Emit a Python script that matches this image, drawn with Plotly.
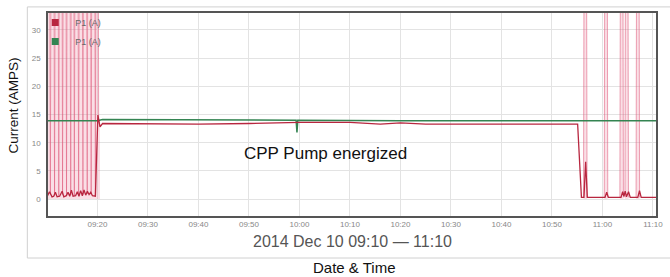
import plotly.graph_objects as go

DATE = "2014-12-10 "

# Main P1 (A) current series (red)
red_times = ["09:10:00", "09:10:30", "09:11:00", "09:11:20", "09:11:40", "09:12:00", "09:12:30",
             "09:13:00", "09:13:20", "09:13:50", "09:14:10", "09:14:30", "09:14:50", "09:15:10",
             "09:15:40", "09:16:00", "09:16:20", "09:16:40", "09:17:00", "09:17:20", "09:17:40",
             "09:18:00", "09:18:20", "09:18:40", "09:19:00", "09:19:20", "09:19:35", "09:20:05",
             "09:20:30", "09:21:00", "09:30:00", "09:40:00", "09:50:00", "09:55:00", "10:00:00",
             "10:10:00", "10:13:00", "10:16:00", "10:20:00", "10:25:00", "10:35:00", "10:45:00",
             "10:55:05", "10:55:50", "10:56:20", "10:56:40", "10:57:00", "11:00:30", "11:00:50",
             "11:01:10", "11:03:40", "11:04:00", "11:04:15", "11:04:30", "11:04:45", "11:05:10",
             "11:05:30", "11:07:00", "11:07:20", "11:07:40", "11:11:00"]
red_vals = [0.4, 1.3, 0.4, 0.5, 1.2, 0.4, 0.5,
            1.4, 0.4, 0.6, 1.2, 0.5, 1.6, 0.5,
            0.6, 1.3, 0.5, 1.5, 0.6, 1.6, 0.7,
            1.4, 0.8, 1.2, 0.6, 0.5, 0.5, 14.9,
            12.8, 13.4, 13.3, 13.3, 13.4, 13.5, 13.6,
            13.6, 13.4, 13.3, 13.5, 13.3, 13.3, 13.3,
            13.3, 0.3, 0.3, 6.6, 0.3, 0.3, 1.2,
            0.3, 0.3, 1.3, 0.5, 1.4, 0.4, 1.3,
            0.3, 0.3, 1.5, 0.3, 0.3]

# Off-scale spikes of P1 (A) (drawn as light pink bands); None separates bursts
spike_times = ["09:10:12", "09:10:40", "09:11:05", "09:11:30", "09:11:55", "09:12:20", "09:12:45",
               "09:13:05", "09:13:30", "09:13:52", "09:14:15", "09:14:42", "09:15:05", "09:15:25",
               "09:15:50", "09:16:16", "09:16:40", "09:17:07", "09:17:30", "09:17:58", "09:18:20",
               "09:18:45", "09:19:10", "09:19:35", "09:19:55", "09:20:14", "09:20:30", None,
               "10:56:15", "10:56:36", "10:56:57", None,
               "11:00:21", "11:00:42", "11:01:03", None,
               "11:03:27", "11:03:48", "11:04:09", None,
               "11:04:27", "11:04:48", "11:05:09", None,
               "11:06:39", "11:07:00", "11:07:21"]
spike_vals = [150, 0.8, 150, 0.6, 150, 0.5, 150,
              0.8, 150, 0.6, 150, 0.7, 150, 0.6,
              150, 0.8, 150, 0.8, 150, 0.9, 150,
              0.8, 150, 0.6, 150, 14.0, 13.0, None,
              0.3, 150, 0.3, None,
              0.3, 150, 0.3, None,
              0.3, 150, 0.3, None,
              0.3, 150, 0.3, None,
              0.3, 150, 0.3]

# Second P1 (A) series (green)
green_times = ["09:10:00", "09:20:00", "09:21:00", "09:40:00", "09:59:20", "09:59:30", "09:59:40",
               "10:20:00", "10:40:00", "10:55:00", "11:11:00"]
green_vals = [13.9, 13.9, 14.1, 14.0, 14.0, 11.8, 14.0, 13.9, 13.9, 14.0, 13.9]

legend_names = ["P1 (A)", "P1 (A)"]
y_ticks = [0, 5, 10, 15, 20, 25, 30]

RED = "#b8263f"
GREEN = "#348452"
FONT = "Liberation Sans, Arial, sans-serif"


def ts(lst):
    return [DATE + t if t is not None else None for t in lst]


# split spike data into bursts
segments = []
cur_t, cur_v = [], []
for t, v in zip(spike_times, spike_vals):
    if t is None:
        if cur_t:
            segments.append((cur_t, cur_v))
        cur_t, cur_v = [], []
    else:
        cur_t.append(t)
        cur_v.append(v)
if cur_t:
    segments.append((cur_t, cur_v))

fig = go.Figure()

for seg_t, seg_v in segments:
    fig.add_trace(go.Scatter(
        x=ts(seg_t), y=seg_v, mode="lines", fill="tozeroy",
        fillcolor="rgba(236,120,150,0.24)",
        line=dict(color="rgba(222,90,122,0.55)", width=1),
        showlegend=False, hoverinfo="skip"))

fig.add_trace(go.Scatter(
    x=ts(green_times), y=green_vals, mode="lines",
    line=dict(color=GREEN, width=1.5), showlegend=False))

fig.add_trace(go.Scatter(
    x=ts(red_times), y=red_vals, mode="lines",
    line=dict(color=RED, width=1.3), showlegend=False))

# legend entries with square swatches
for name, col in zip(legend_names, [RED, GREEN]):
    fig.add_trace(go.Scatter(
        x=[None], y=[None], mode="markers", name=name,
        marker=dict(symbol="square", size=7, color=col)))

fig.update_layout(
    width=670, height=277,
    margin=dict(l=48, r=7, t=13, b=61),
    paper_bgcolor="white", plot_bgcolor="white",
    font=dict(family=FONT, color="#777", size=8),
    legend=dict(x=-0.021, y=1.025, xanchor="left", yanchor="top",
                bgcolor="rgba(0,0,0,0)", font=dict(size=9, color="#666"),
                itemwidth=30),
    showlegend=True,
)

fig.update_xaxes(
    range=[DATE + "09:10:12", DATE + "11:10:36"],
    tickformat="%H:%M", dtick=600000, tick0=DATE + "09:10:00",
    showgrid=True, gridcolor="#e3e3e3", gridwidth=1,
    showline=True, linecolor="#555", linewidth=1.5, mirror=True,
    ticks="", tickfont=dict(size=8, color="#888"), zeroline=False)

fig.update_yaxes(
    range=[-3, 33], tickvals=y_ticks,
    showgrid=True, gridcolor="#e3e3e3", gridwidth=1,
    showline=True, linecolor="#555", linewidth=1.5, mirror=True,
    ticks="", tickfont=dict(size=8, color="#888"), zeroline=False,
    ticklabelstandoff=4)

# outer frame of the chart panel
fig.add_shape(type="rect", xref="paper", yref="paper",
              x0=-0.034, x1=1.03, y0=-0.207, y1=1.03,
              line=dict(color="#d0d0d0", width=1), layer="below")

fig.add_annotation(text="Current (AMPS)", xref="paper", yref="paper",
                   x=(13 - 48) / 615, y=(216 - 105) / 203, xanchor="center", yanchor="middle",
                   textangle=-90, showarrow=False,
                   font=dict(size=13.5, color="#111", family=FONT))
fig.add_annotation(text="2014 Dec 10 09:10 \u2014 11:10", xref="paper", yref="paper",
                   x=(356 - 48) / 615, y=(216 - 241) / 203, xanchor="center", yanchor="middle",
                   showarrow=False,
                   font=dict(size=16, color="#555", family=FONT))
fig.add_annotation(text="Date & Time", xref="paper", yref="paper",
                   x=(358 - 48) / 615, y=(216 - 267) / 203, xanchor="center", yanchor="middle",
                   showarrow=False,
                   font=dict(size=15, color="#111", family=FONT))
fig.add_annotation(text="CPP Pump energized", xref="paper", yref="paper",
                   x=(329 - 48) / 615, y=(216 - 154) / 203, xanchor="center", yanchor="middle",
                   showarrow=False,
                   font=dict(size=17, color="#111", family=FONT))

fig.write_html("out.html", config={"displayModeBar": False},
               post_script="document.body.style.margin='0px';")
